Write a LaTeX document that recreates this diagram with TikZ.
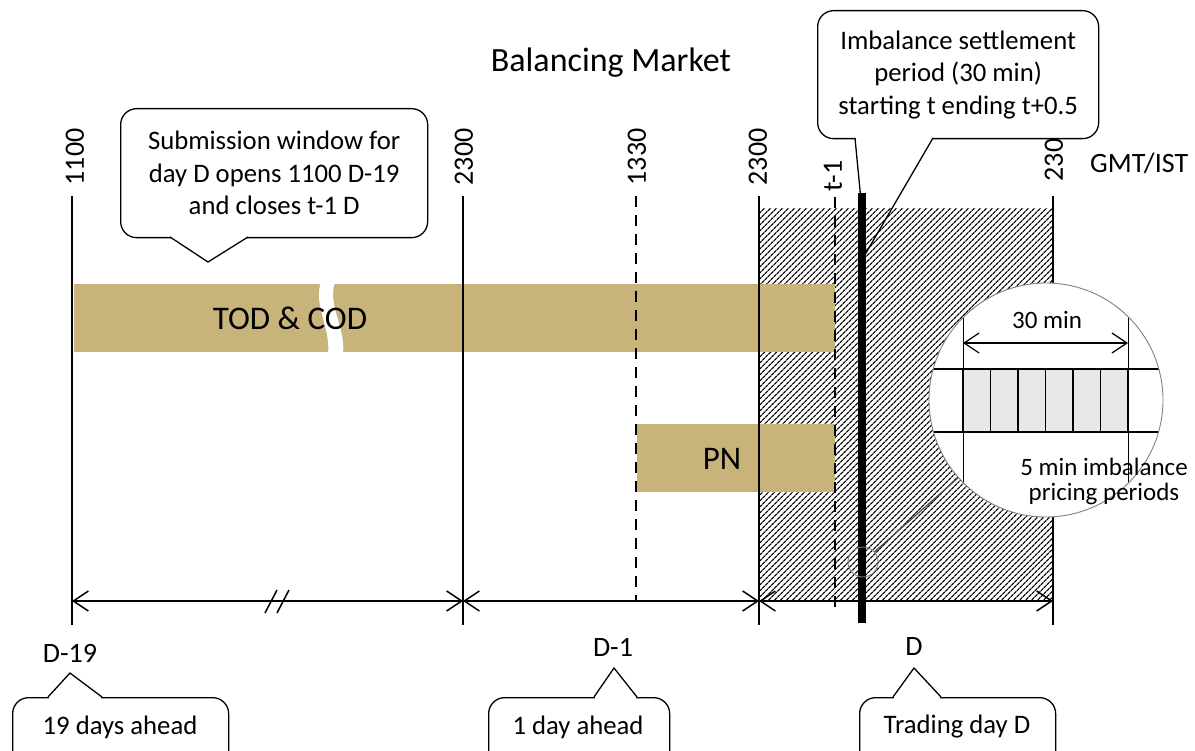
\documentclass[tikz,border=0pt]{standalone}
\usepackage{fontspec}
\setmainfont{Carlito}
\usetikzlibrary{arrows.meta,patterns.meta}
\definecolor{tanbar}{HTML}{C8B47A}
\definecolor{cellgray}{HTML}{E8E8E8}
\begin{document}
\begin{tikzpicture}[x=1pt,y=-1pt,
  lbl/.style={font=\fontsize{28}{34}\selectfont, inner sep=0pt},
  rlbl/.style={lbl, rotate=90},
  big/.style={font=\fontsize{33}{40}\selectfont, inner sep=0pt},
  co/.style={font=\fontsize{26.7}{32.5}\selectfont, align=center, inner sep=0pt},
  small/.style={font=\fontsize{25}{25}\selectfont, align=center, inner sep=0pt},
  cbox/.style={draw, line width=1.3pt, rounded corners=16pt, fill=white},
  cline/.style={line width=1.3pt},
  vl/.style={line width=1.6pt},
  dl/.style={line width=1.6pt, dash pattern=on 11pt off 8pt},
  bar/.style={fill=tanbar, draw=none, inner sep=0pt, outer sep=0pt},
  dim/.style={line width=1.5pt, {Straight Barb[length=15pt,width=20pt]}-{Straight Barb[length=15pt,width=20pt]}},
]
\useasboundingbox (0,0) rectangle (1195,751);

% ---- top labels
\node[big, font=\fontsize{34}{40}\selectfont] (title) at (611,63) {Balancing Market};
\node[rlbl] (l1100) at (75,157) {1100};
\node[rlbl] (l2300a) at (464,157) {2300};
\node[rlbl] (l1330) at (637,157) {1330};
\node[rlbl] (l2300b) at (758,157) {2300};
\node[rlbl] (lt1) at (833,176) {t-1};
\node[rlbl] (l2300c) at (1054,153) {2300};
\node[lbl, anchor=west] (gmt) at (1090,163) {GMT/IST};

% ---- submission callout
\node[cbox, co, minimum width=307pt, minimum height=129pt, anchor=north west] (sub) at (120,108)
  {Submission window for\\day D opens 1100 D-19\\and closes t-1 D};
\fill[white] (171,235) rectangle (247,239.5);
\draw[cline, fill=white] (170,237) -- (208,262) -- (248,237);

% ---- imbalance callout
\node[cbox, co, minimum width=281pt, minimum height=128pt, anchor=north west] (imb) at (817,10)
  {Imbalance settlement\\period (30 min)\\starting t ending t+0.5};
\fill[white] (856,136) rectangle (932,140.5);
\fill[white] (855,138) -- (866,253) -- (933,138) -- cycle;

% ---- hatched trading day
\fill[pattern={Lines[angle=45,distance=4pt,line width=1.3pt]}] (759,209) rectangle (1053,601);
\draw[cline] (855,138) -- (866,253) -- (933,138);

% ---- bars
\node[bar, minimum width=761pt, minimum height=68pt, anchor=north west] (tod) at (74,284) {};
\fill[white] (321,282) .. controls (313,305) and (331,328) .. (328,354) -- (343,354) .. controls (346,328) and (327,305) .. (335,282) -- cycle;
\node[big] (todt) at (290,318) {TOD \& COD};
\node[bar, minimum width=198pt, minimum height=68pt, anchor=north west] (pn) at (637,424) {};
\node[big] (pnt) at (722,459) {PN};

% ---- vertical lines
\draw[vl] (72,196) -- (72,625);
\draw[vl] (463,196) -- (463,625);
\draw[dl] (636,196) -- (636,600);
\draw[vl] (759,196) -- (759,625);
\draw[dl] (835,197) -- (835,610);
\draw[line width=8pt] (862,193) -- (862,623);
\draw[vl] (1053,196) -- (1053,625);

% ---- dimension arrows
\coordinate (d0) at (72,601);
\coordinate (d1) at (463,601);
\coordinate (d2) at (759,601);
\coordinate (d3) at (1053,601);
\draw[dim] (d0) -- (d1);
\draw[dim] (d1) -- (d2);
\draw[dim] (d2) -- (d3);
\draw[line width=1.5pt] (265,613) -- (277,590) (277,613) -- (289,590);

% ---- bottom labels and callouts
\node[lbl] (d19) at (70,653) {D-19};
\node[lbl] (dm1) at (613,647) {D-1};
\node[lbl] (dd) at (914,647) {D};

\node[cbox, minimum width=216pt, minimum height=80pt, anchor=north west] (c19) at (12,697) {};
\node[co] (c19t) at (120,727) {19 days ahead};
\fill[white] (49,695) rectangle (101,699.5);
\draw[cline, fill=white] (48,697) -- (70,673) -- (102,697);

\node[cbox, minimum width=181pt, minimum height=80pt, anchor=north west] (c1) at (488,697) {};
\node[co] (c1t) at (578,727) {1 day ahead};
\fill[white] (595,695) rectangle (636,699.5);
\draw[cline, fill=white] (594,697) -- (614,668) -- (637,697);

\node[cbox, minimum width=196pt, minimum height=80pt, anchor=north west] (ctd) at (859,697) {};
\node[co] (ctdt) at (957,727) {Trading day D};
\fill[white] (894,695) rectangle (940,699.5);
\draw[cline, fill=white] (893,697) -- (914,668) -- (941,697);

% ---- magnifier
\node[circle, draw=gray, line width=0.9pt, minimum size=30pt, inner sep=0pt] (sc) at (863,562) {};
\node[circle, minimum size=234pt, inner sep=0pt] (bc) at (1046,400) {};
\draw[gray!60!black, line width=1.2pt] (sc) -- (bc);
\fill[white] (bc.center) circle (117pt);
\begin{scope}
  \clip (bc.center) circle (117pt);
  \fill[cellgray] (963,369) rectangle (1128,432);
  \draw[line width=1.8pt] (900,369) -- (1200,369) (900,432) -- (1200,432);
  \foreach \x in {963,990.5,1018,1045.5,1073,1100.5,1128}
    \draw[line width=1.8pt] (\x,369) -- (\x,432);
  \draw[line width=0.9pt] (963,318) -- (963,482) (1128,318) -- (1128,482);
\end{scope}
\coordinate (m1) at (963,343);
\coordinate (m2) at (1128,343);
\draw[dim, line width=1.2pt] (m1) -- (m2);
\draw[gray, line width=0.9pt] (bc.center) circle (117pt);
\node[small] (m30) at (1047,320) {30 min};
\node[small] (mtext) at (1104,481) {5 min imbalance\\pricing periods};
\end{tikzpicture}
\end{document}
